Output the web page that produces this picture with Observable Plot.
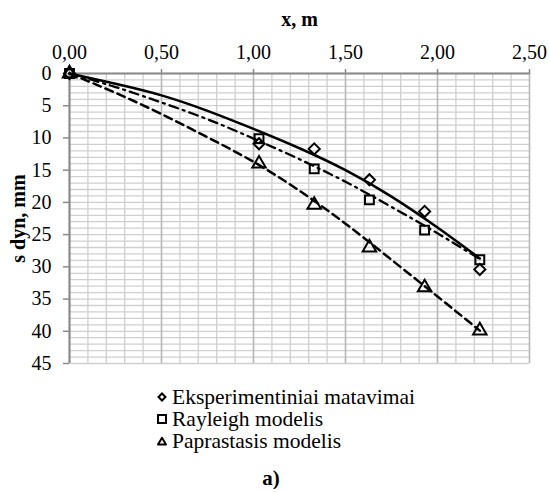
<!DOCTYPE html>
<html>
<head>
<meta charset="utf-8">
<script src="https://cdn.jsdelivr.net/npm/d3@7"></script>
<script src="https://cdn.jsdelivr.net/npm/@observablehq/plot@0.6"></script>
<style>
  body { margin: 0; background: #fff; font-family: "Liberation Serif", "Times New Roman", serif; color: #000; }
  #chart svg { display: block; }
  #chart svg text { font-family: "Liberation Serif", "Times New Roman", serif; }
  .legend { margin: 6px 0 0 156px; font-size: 21.5px; line-height: 22px; }
  .legend .item { display: flex; align-items: center; height: 22px; white-space: nowrap; }
  .legend svg { margin-right: 4px; }
  .caption { text-align: center; font-weight: bold; font-size: 21px; line-height: 22px; margin-top: 15px; padding-right: 8px; }
</style>
</head>
<body>
<div id="chart"></div>
<script>
// Distance along the beam, m
const xMeasured = [0, 1.03, 1.33, 1.63, 1.93, 2.23];
// Dynamic deflection, mm
const sMeasured = [0, 10.9, 11.7, 16.5, 21.4, 30.4];
const sRayleigh = [0, 10.1, 14.8, 19.6, 24.3, 28.9];
const sSimple   = [0, 14.0, 20.4, 27.0, 33.2, 39.9];

// Trend curves
const xCurve         = [0, 0.25, 0.5, 0.75, 1.0, 1.25, 1.5, 1.75, 2.0, 2.23];
const curveMeasured  = [0, 1.6, 3.4, 5.8, 8.6, 11.6, 15.0, 19.1, 23.9, 28.7];
const curveRayleigh  = [0, 2.1, 4.5, 7.1, 10.1, 13.3, 16.8, 20.7, 24.8, 28.8];
const curveSimple    = [0, 3.0, 6.3, 9.9, 13.7, 18.2, 23.3, 28.9, 34.6, 39.9];

// Axis ticks
const xTicks = [0, 0.5, 1.0, 1.5, 2.0, 2.5];
const yTicks = [0, 5, 10, 15, 20, 25, 30, 35, 40, 45];
const xMinor = d3.range(0, 26).map(i => i / 10);
const yMinor = d3.range(0, 46);

const seriesNames = ["Eksperimentiniai matavimai", "Rayleigh modelis", "Paprastasis modelis"];
const seriesSymbols = ["diamond2", "square", "triangle"];

const pts = (ys) => xMeasured.map((x, i) => ({x, s: ys[i]}));
const crv = (ys) => xCurve.map((x, i) => ({x, s: ys[i]}));

const comma = d => d.toFixed(2).replace(".", ",");

const chart = Plot.plot({
  width: 550,
  height: 380,
  marginLeft: 69,
  marginRight: 21,
  marginTop: 73,
  marginBottom: 17,
  style: "font-family: 'Liberation Serif', 'Times New Roman', serif; font-size: 20px; background: #fff; color: #000;",
  x: { domain: [0, 2.5] },
  y: { domain: [0, 45], reverse: true },
  marks: [
    Plot.gridX(xMinor, { stroke: "#cfcfcf", strokeOpacity: 1, strokeWidth: 1.3 }),
    Plot.gridY(yMinor, { stroke: "#cfcfcf", strokeOpacity: 1, strokeWidth: 1.3 }),
    Plot.gridX(xTicks, { stroke: "#b8b8b8", strokeOpacity: 1, strokeWidth: 1.5 }),
    Plot.axisX(xTicks, { anchor: "top", tickSize: 5, tickPadding: 10, tickFormat: comma, stroke: "#8a8a8a", strokeWidth: 1.5, label: null, fill: "#000" }),
    Plot.axisY(yTicks, { anchor: "left", tickSize: 6, tickPadding: 12, stroke: "#8a8a8a", strokeWidth: 1.5, label: null, fill: "#000" }),
    Plot.ruleY([0], { stroke: "#8a8a8a", strokeWidth: 2 }),
    Plot.ruleX([0], { stroke: "#8a8a8a", strokeWidth: 2 }),
    Plot.text(["x, m"], { frameAnchor: "top", lineAnchor: "middle", dy: -54, fontWeight: "bold", fontSize: 20 }),
    Plot.text(["s dyn, mm"], { frameAnchor: "left", textAnchor: "middle", lineAnchor: "middle", dx: -51, rotate: -90, fontWeight: "bold", fontSize: 20 }),
    // trend curves
    Plot.line(crv(curveSimple),   { x: "x", y: "s", stroke: "#000", strokeWidth: 2.5, strokeDasharray: "8,5", curve: "natural" }),
    Plot.line(crv(curveRayleigh), { x: "x", y: "s", stroke: "#000", strokeWidth: 2.3, strokeDasharray: "9,5,2,5", curve: "natural" }),
    Plot.line(crv(curveMeasured), { x: "x", y: "s", stroke: "#000", strokeWidth: 2.5, curve: "natural" }),
    // points
    Plot.dot(pts(sMeasured), { x: "x", y: "s", symbol: () => seriesSymbols[0], r: 5, stroke: "#000", strokeWidth: 2, fill: "none" }),
    Plot.dot(pts(sRayleigh), { x: "x", y: "s", symbol: () => seriesSymbols[1], r: 5, stroke: "#000", strokeWidth: 2, fill: "none" }),
    Plot.dot(pts(sSimple),   { x: "x", y: "s", symbol: () => seriesSymbols[2], r: 5, stroke: "#000", strokeWidth: 2, fill: "none" })
  ],
  symbol: { domain: seriesSymbols, range: seriesSymbols }
});
document.getElementById("chart").appendChild(chart);

// Legend below the plot
const legend = document.createElement("div");
legend.className = "legend";
const icons = [
  '<path d="M6 2.5 L9.5 6 L6 9.5 L2.5 6 Z" fill="#fff" stroke="#000" stroke-width="2"/>',
  '<rect x="2" y="2" width="8" height="8" fill="#fff" stroke="#000" stroke-width="2"/>',
  '<path d="M6 2.8 L10 9.5 L2 9.5 Z" fill="#fff" stroke="#000" stroke-width="2" stroke-linejoin="round"/>'
];
seriesNames.forEach((name, i) => {
  const item = document.createElement("div");
  item.className = "item";
  item.innerHTML = `<svg width="12" height="12" viewBox="0 0 12 12">${icons[i]}</svg><span>${name}</span>`;
  legend.appendChild(item);
});
document.body.appendChild(legend);

const caption = document.createElement("div");
caption.className = "caption";
caption.textContent = "a)";
document.body.appendChild(caption);
</script>
</body>
</html>
